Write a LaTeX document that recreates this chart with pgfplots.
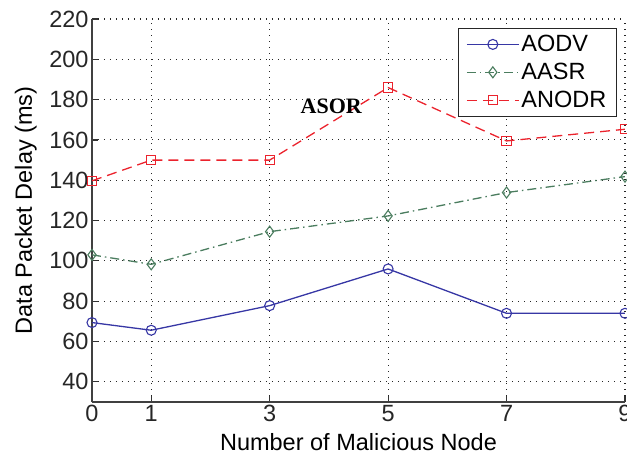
\documentclass[border=0pt]{standalone}
\usepackage{pgfplots}
\pgfplotsset{compat=1.18}
\usepackage{fontspec}
\setmainfont{Liberation Sans}
\newfontfamily\timesfont{Liberation Serif}

\definecolor{aodvblue}{RGB}{55,55,165}
\definecolor{aasrgreen}{RGB}{75,125,95}
\definecolor{anodrred}{RGB}{235,35,45}

\begin{document}
\begin{tikzpicture}
\begin{axis}[
    scale only axis,
    width=533pt, height=383pt,
    xmin=0, xmax=9, ymin=30, ymax=220,
    xtick={0,1,3,5,7,9},
    ytick={40,60,...,220},
    axis x line*=bottom, axis y line*=left,
    axis line style={line width=1.5pt, black!75, -},
    tick style={line width=1.2pt, black!80},
    tick align=inside, major tick length=6pt,
    grid=major,
    grid style={line width=1.1pt, black!85, dash pattern=on 1.4pt off 4.6pt},
    /pgf/number format/assume math mode=true,
    ticklabel style={font=\fontsize{23.5}{24}\selectfont, text=black!85},
    label style={font=\fontsize{23.5}{24}\selectfont},
    xlabel={Number of Malicious Node},
    ylabel={Data Packet Delay (ms)},
    xlabel style={at={(axis description cs:0.5,-0.126)}, anchor=base},
    ylabel style={at={(axis description cs:-0.1126,0.5)}, anchor=base},
    legend style={at={(axis description cs:0.985,0.977)}, anchor=north east,
        draw=black!85, line width=1.3pt, fill=white,
        font=\fontsize{23.5}{24}\selectfont,
        inner xsep=8pt, inner ysep=5pt, row sep=6pt,
        nodes={inner sep=2pt}},
    legend cell align=left,
    legend image code/.code={
        \draw[mark repeat=2, mark phase=2] plot coordinates {(0pt,0pt) (26pt,0pt) (52pt,0pt)};
    },
    every axis plot/.append style={line width=1.3pt},
]
% AODV
\addplot[color=aodvblue, solid, mark=o, mark size=5pt, mark options={solid, line width=1.1pt}]
    coordinates {(0,69.4) (1,65.6) (3,77.8) (5,96) (7,74) (9,74)};
% AASR
\addplot[color=aasrgreen, dash pattern=on 9pt off 4pt on 1.5pt off 4pt, mark=diamond, mark size=5.5pt, mark options={solid, line width=1.1pt}]
    coordinates {(0,103) (1,98.3) (3,114.5) (5,122.3) (7,133.9) (9,141.8)};
% ANODR
\addplot[color=anodrred, dash pattern=on 10pt off 6pt, mark=square, mark size=4.6pt, mark options={solid, line width=1.1pt}]
    coordinates {(0,139.7) (1,150) (3,150) (5,186) (7,159.5) (9,165.3)};
\legend{AODV, AASR, ANODR}
\node[font=\timesfont\bfseries\fontsize{22}{22}\selectfont] at (axis cs:4.04,176.8) {ASOR};
\end{axis}
\pgfresetboundingbox
\path[use as bounding box] (-92pt,-53pt) rectangle (535pt,402pt);
\end{tikzpicture}
\end{document}
